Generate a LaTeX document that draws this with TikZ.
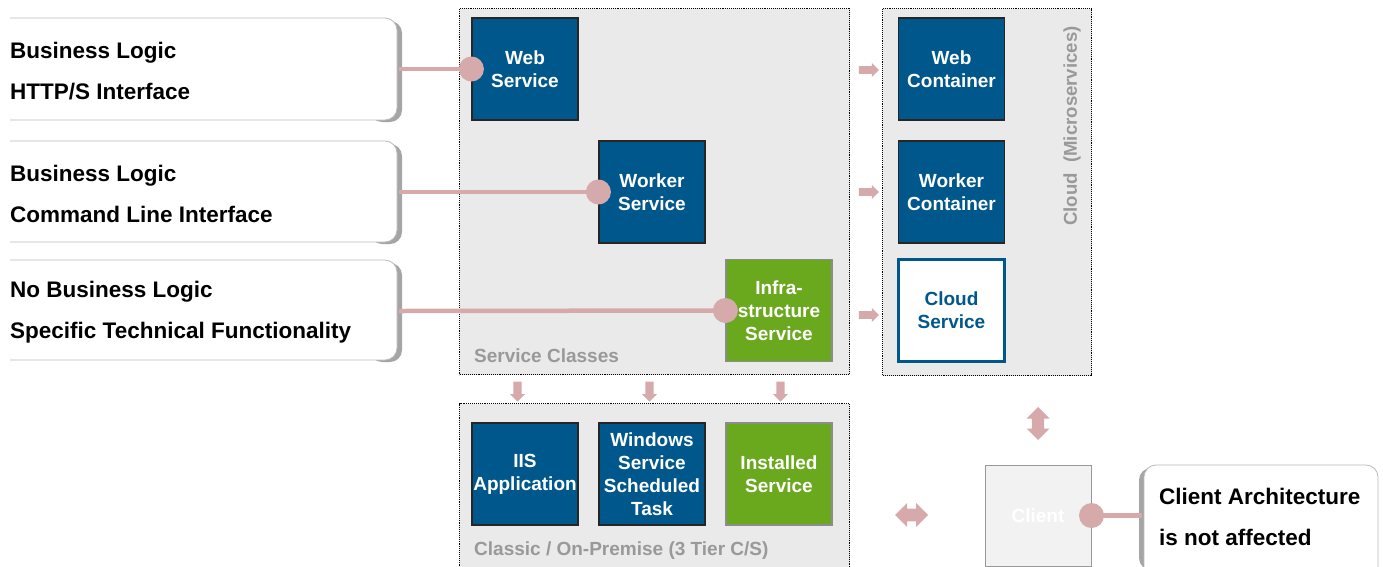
\documentclass[tikz,border=0pt]{standalone}
\usepackage{fontspec}
\setmainfont{Liberation Sans}
\usetikzlibrary{shapes.arrows}
\definecolor{bluebox}{RGB}{0,87,139}
\definecolor{greenbox}{RGB}{106,168,30}
\definecolor{pinkc}{RGB}{214,170,170}
\definecolor{contfill}{RGB}{234,234,234}
\definecolor{graytxt}{RGB}{153,153,153}
\definecolor{shadowc}{RGB}{165,165,165}
\definecolor{calloutline}{RGB}{185,185,185}
\definecolor{clientfill}{RGB}{242,242,242}
\newcommand\leftcallout[2]{%
  \fill[shadowc, rounded corners=12pt] (370,#1+3) -- (402,#1+3) -- (402,#2+2) -- (370,#2+2) -- cycle;
  \fill[white, rounded corners=12pt] (10,#1) -- (397,#1) -- (397,#2) -- (10,#2) -- cycle;
  \draw[calloutline, line width=0.8pt, rounded corners=12pt] (10,#1) -- (397,#1) -- (397,#2) -- (10,#2);
}
\begin{document}
\begin{tikzpicture}[x=1pt,y=-1pt,
  container/.style={draw=black, densely dotted, fill=contfill, line width=1.1pt, inner sep=0pt},
  boxbase/.style={line width=1.2pt, font=\bfseries\fontsize{19}{23}\selectfont, align=center,
    minimum width=106pt, minimum height=102pt, inner sep=0pt},
  bluebx/.style={boxbase, draw=black!85, fill=bluebox, text=white},
  greenbx/.style={boxbase, draw=black!45, fill=greenbox, text=white},
  cloudbx/.style={boxbase, draw=bluebox, line width=2.5pt, fill=white, text=bluebox},
  clientbx/.style={boxbase, draw=black!40, line width=1pt, fill=clientfill, text=white, minimum height=101pt},
  graylabel/.style={text=graytxt, font=\bfseries\fontsize{19}{22}\selectfont, inner sep=0pt},
  callouttext/.style={font=\bfseries\fontsize{22.5}{41}\selectfont, align=left, inner sep=0pt, anchor=west},
  conn/.style={draw=pinkc, line width=4.5pt},
  dot/.style={circle, fill=pinkc, minimum size=25pt, inner sep=0pt},
  rarrow/.style={single arrow, fill=pinkc, inner sep=3.5pt, minimum height=20pt, minimum width=14pt, single arrow head extend=3pt},
  darrow/.style={rarrow, shape border rotate=270, minimum width=15pt},
  dblarrow/.style={double arrow, fill=pinkc, inner sep=5.5pt, minimum height=33pt, minimum width=23pt, double arrow head extend=5pt},
]
\useasboundingbox (0,0) rectangle (1383,566);

% callouts
\leftcallout{18}{120}
\leftcallout{141}{242}
\leftcallout{260}{360}
\fill[shadowc, rounded corners=12pt] (1170,468) -- (1139,468) -- (1139,570) -- (1170,570) -- cycle;
\fill[white, rounded corners=12pt] (1378,465) -- (1144,465) -- (1144,580) -- (1378,580) -- cycle;
\draw[calloutline, line width=0.8pt, rounded corners=12pt] (1378,580) -- (1378,465) -- (1144,465) -- (1144,580);

\node[callouttext] (t1) at (10,71) {Business Logic\\HTTP/S Interface};
\node[callouttext] (t2) at (10,194) {Business Logic\\Command Line Interface};
\node[callouttext] (t3) at (10,312.5) {No Business Logic\\Specific Technical Functionality};
\node[callouttext] (t4) at (1159,517) {Client Architecture\\is not affected};

\coordinate (e1) at (399,69);
\coordinate (e2) at (399,192);
\coordinate (e3) at (399,311);
\coordinate (e4) at (1142,515.5);

% containers
\node[container, anchor=north west, minimum width=390pt, minimum height=366pt] (svc) at (459,8) {};
\node[container, anchor=north west, minimum width=209pt, minimum height=367pt] (cloud) at (882,8) {};
\node[container, anchor=north west, minimum width=390pt, minimum height=170pt] (classic) at (459,403) {};

\node[graylabel, anchor=base west] (svclbl) at (474,362) {Service Classes};
\node[graylabel, anchor=base west] (classiclbl) at (474,555) {Classic / On-Premise (3 Tier C/S)};
\node[graylabel, rotate=90, font=\bfseries\fontsize{18.6}{22}\selectfont] (cloudlbl) at (1072,126) {Cloud\ \ (Microservices)};

% boxes
\node[bluebx] (web) at (525,69) {Web\\Service};
\node[bluebx] (worker) at (652,192) {Worker\\Service};
\node[greenbx] (infra) at (779,310.5) {Infra-\\structure\\Service};
\node[bluebx] (webc) at (951.5,69) {Web\\Container};
\node[bluebx] (workerc) at (951.5,192) {Worker\\Container};
\node[cloudbx] (clouds) at (951.5,310.5) {Cloud\\Service};
\node[bluebx] (iis) at (525,474) {IIS\\Application};
\node[bluebx] (win) at (652,474) {Windows\\Service\\Scheduled\\Task};
\node[greenbx] (inst) at (779,474) {Installed\\Service};
\node[clientbx] (client) at (1038,515.5) {Client};

% connectors
\draw[conn] (e1) -- (web.west);
\draw[conn] (e2) -- (worker.west);
\draw[conn] (e3) -- (infra.west);
\draw[conn] (client.east) -- (e4);
\node[dot] (d1) at (web.west) {};
\node[dot] (d2) at (worker.west) {};
\node[dot] (d3) at (infra.west) {};
\node[dot] (d4) at (client.east) {};

% block arrows
\node[rarrow] (r1) at (867,70) {};
\node[rarrow] (r2) at (867,192) {};
\node[rarrow] (r3) at (867,315) {};
\node[darrow] (dn1) at (517.5,389.5) {};
\node[darrow] (dn2) at (649.5,389.5) {};
\node[darrow] (dn3) at (780.5,389.5) {};
\node[dblarrow, shape border rotate=90] (ud) at (1038,423.5) {};
\node[dblarrow, minimum width=24pt] (lr) at (911.5,515) {};
\end{tikzpicture}
\end{document}
